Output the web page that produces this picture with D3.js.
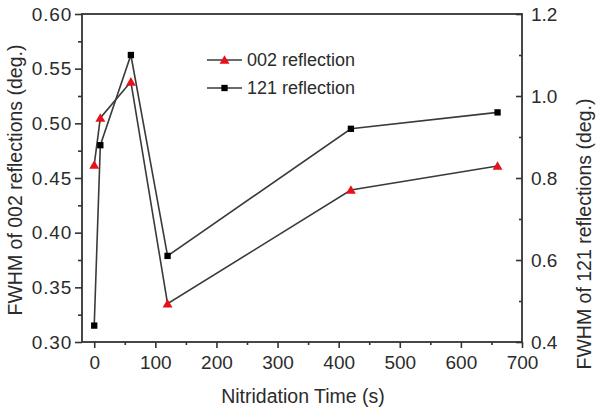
<!DOCTYPE html>
<html>
<head>
<meta charset="utf-8">
<script src="https://cdn.jsdelivr.net/npm/d3@7"></script>
<style>
  body { margin: 0; background: #fff; }
  text { font-family: "Liberation Sans", Arial, sans-serif; fill: #2b2b2b; }
</style>
</head>
<body>
<div id="chart"></div>
<script>
// nitridation time (s)
var times = [0, 10, 60, 120, 420, 660];
// FWHM of 002 reflection, left axis (deg.)
var fwhm002 = [0.462, 0.505, 0.538, 0.335, 0.439, 0.461];
// FWHM of 121 reflection, right axis (deg.)
var fwhm121 = [0.44, 0.88, 1.10, 0.61, 0.92, 0.96];

var xTicks = [0, 100, 200, 300, 400, 500, 600, 700];
var yLeftTicks = [0.30, 0.35, 0.40, 0.45, 0.50, 0.55, 0.60];
var yRightTicks = [0.4, 0.6, 0.8, 1.0, 1.2];
var legendLabels = ["002 reflection", "121 reflection"];

var w = 596, h = 412;
var plotL = 82, plotR = 522, plotT = 14, plotB = 342;
var axisColor = "#333";
var lineColor = "#3a3a3a";
var red = "#e8101a";

var svg = d3.select("#chart").append("svg")
    .attr("width", w)
    .attr("height", h);

var x = d3.scaleLinear().domain([-20, 700]).range([plotL, plotR]);
var yL = d3.scaleLinear().domain([0.30, 0.60]).range([plotB, plotT]);
var yR = d3.scaleLinear().domain([0.4, 1.2]).range([plotB, plotT]);

//frame
svg.append("rect")
    .attr("x", plotL).attr("y", plotT)
    .attr("width", plotR - plotL).attr("height", plotB - plotT)
    .attr("fill", "none")
    .attr("stroke", axisColor)
    .attr("stroke-width", 1.8);

//bottom axis, ticks outward
var xAxis = svg.append("g").attr("transform", "translate(0," + plotB + ")")
    .call(d3.axisBottom(x).tickValues(xTicks).tickSize(6).tickPadding(8).tickFormat(d3.format("d")));
var xMinor = svg.append("g").attr("transform", "translate(0," + plotB + ")")
    .call(d3.axisBottom(x).tickValues(d3.range(50, 700, 100)).tickSize(3).tickFormat(""));

//left axis, ticks outward
var yAxisL = svg.append("g").attr("transform", "translate(" + plotL + ",0)")
    .call(d3.axisLeft(yL).tickValues(yLeftTicks).tickSize(7).tickPadding(3).tickFormat(d3.format(".2f")));
var yMinorL = svg.append("g").attr("transform", "translate(" + plotL + ",0)")
    .call(d3.axisLeft(yL).tickValues(d3.range(0.325, 0.6, 0.05)).tickSize(4).tickFormat(""));

//right axis, ticks inward
var yAxisR = svg.append("g").attr("transform", "translate(" + plotR + ",0)")
    .call(d3.axisRight(yR).tickValues(yRightTicks).tickSize(-6).tickPadding(9).tickFormat(d3.format(".1f")));
var yMinorR = svg.append("g").attr("transform", "translate(" + plotR + ",0)")
    .call(d3.axisRight(yR).tickValues(d3.range(0.5, 1.2, 0.2)).tickSize(-3).tickFormat(""));

[xAxis, xMinor, yAxisL, yMinorL, yAxisR, yMinorR].forEach(function(g) {
    g.select(".domain").remove();
    g.selectAll("line").attr("stroke", axisColor).attr("stroke-width", 1.6);
    g.selectAll("text")
        .attr("font-family", "Liberation Sans, Arial, sans-serif")
        .attr("font-size", 19)
        .attr("fill", "#2b2b2b");
});
yAxisL.selectAll("text").attr("letter-spacing", 0.8);

//axis titles
svg.append("text")
    .attr("x", (plotL + plotR) / 2 + 1)
    .attr("y", 403)
    .attr("text-anchor", "middle")
    .attr("font-size", 19.5)
    .text("Nitridation Time (s)");

svg.append("text")
    .attr("transform", "translate(22," + ((plotT + plotB) / 2 + 2) + ") rotate(-90)")
    .attr("text-anchor", "middle")
    .attr("font-size", 19.5)
    .text("FWHM of 002 reflections (deg.)");

svg.append("text")
    .attr("transform", "translate(591,234) rotate(-90)")
    .attr("text-anchor", "middle")
    .attr("font-size", 19.5)
    .text("FWHM of 121 reflections (deg.)");

//data lines
var pts002 = times.map(function(t, i) { return [t, fwhm002[i]]; });
var pts121 = times.map(function(t, i) { return [t, fwhm121[i]]; });

svg.append("path")
    .datum(pts002)
    .attr("fill", "none")
    .attr("stroke", lineColor)
    .attr("stroke-width", 1.6)
    .attr("d", d3.line().x(function(d) { return x(d[0]); }).y(function(d) { return yL(d[1]); }));

svg.append("path")
    .datum(pts121)
    .attr("fill", "none")
    .attr("stroke", lineColor)
    .attr("stroke-width", 1.6)
    .attr("d", d3.line().x(function(d) { return x(d[0]); }).y(function(d) { return yR(d[1]); }));

var tri = d3.symbol().type(d3.symbolTriangle).size(42);
var sq = d3.symbol().type(d3.symbolSquare).size(40);

svg.selectAll("path.p121")
    .data(pts121)
    .enter()
    .append("path")
    .attr("class", "p121")
    .attr("d", sq)
    .attr("fill", "#000")
    .attr("transform", function(d) { return "translate(" + x(d[0]) + "," + yR(d[1]) + ")"; });

svg.selectAll("path.p002")
    .data(pts002)
    .enter()
    .append("path")
    .attr("class", "p002")
    .attr("d", tri)
    .attr("fill", red)
    .attr("transform", function(d) { return "translate(" + x(d[0]) + "," + (yL(d[1]) + 1) + ")"; });

//legend
var legend = svg.append("g").attr("transform", "translate(207,60)");
var rows = legend.selectAll("g.row")
    .data(legendLabels)
    .enter()
    .append("g")
    .attr("class", "row")
    .attr("transform", function(d, i) { return "translate(0," + (i * 28) + ")"; });

rows.append("line")
    .attr("x1", 0).attr("x2", 35)
    .attr("y1", 0).attr("y2", 0)
    .attr("stroke", lineColor)
    .attr("stroke-width", 1.6);

rows.append("path")
    .attr("d", function(d, i) { return i == 0 ? tri() : sq(); })
    .attr("fill", function(d, i) { return i == 0 ? red : "#000"; })
    .attr("transform", function(d, i) { return "translate(17.5," + (i == 0 ? 1 : 0) + ")"; });

rows.append("text")
    .attr("x", 40)
    .attr("y", 0)
    .attr("dy", "0.35em")
    .attr("font-size", 18)
    .text(function(d) { return d; });
</script>
</body>
</html>
